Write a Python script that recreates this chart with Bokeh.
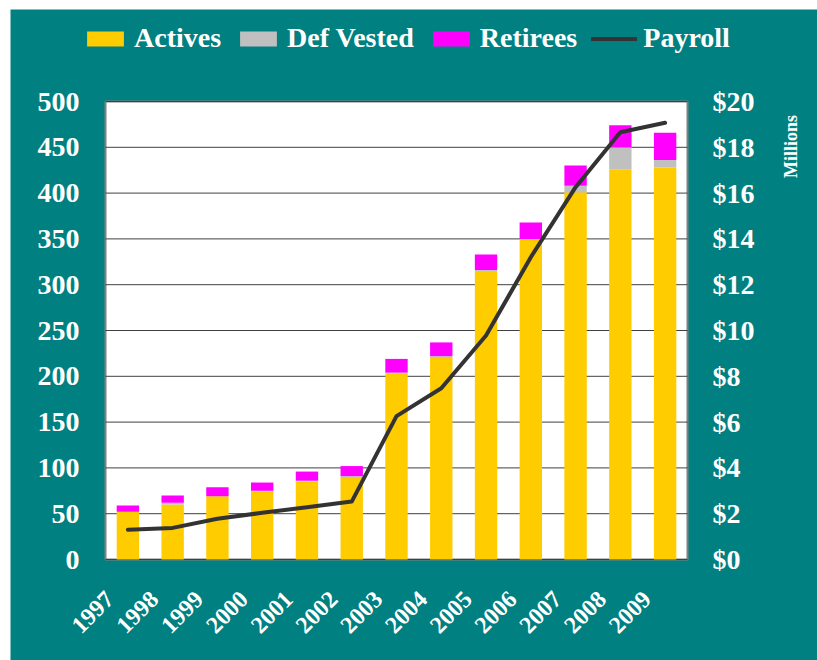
import math
from bokeh.plotting import figure
from bokeh.models import (Range1d, LinearAxis, Legend, LegendItem, Label,
                          FixedTicker, NumeralTickFormatter, ColumnDataSource)
from bokeh.embed import file_html
from bokeh.resources import INLINE

years = ["1997", "1998", "1999", "2000", "2001", "2002", "2003", "2004", "2005", "2006", "2007", "2008", "2009"]
actives = [52, 60, 69, 74, 85, 89, 203, 220, 315, 349, 401, 426, 428]
def_vested = [0, 2, 0, 1, 1, 2, 1, 2, 1, 1, 7, 24, 8]
retirees = [7, 8, 10, 9, 10, 11, 15, 15, 17, 18, 22, 24, 30]
payroll = [1.30, 1.38, 1.78, 2.04, 2.28, 2.53, 6.26, 7.48, 9.78, 13.2, 16.26, 18.66, 19.07]
left_ticks = [0, 50, 100, 150, 200, 250, 300, 350, 400, 450, 500]
right_ticks = [0, 2, 4, 6, 8, 10, 12, 14, 16, 18, 20]
units_label = "Millions"

TEAL = "#008080"
FONT = "Liberation Serif"

n = len(years)
ymax = left_ticks[-1]
pmax = right_ticks[-1]

# layout (pixels): white plot box 582x458, teal surround
BOX_W, BOX_H = 582, 458
PAD_L, PAD_R, PAD_T, PAD_B = 95, 130, 92, 101
px_x = BOX_W / n
px_y = BOX_H / ymax
frame_h = BOX_H + PAD_T + PAD_B
x0 = -PAD_L / px_x
x1 = n + PAD_R / px_x
ybot = -PAD_B / px_y
ytop = ymax + PAD_T / px_y
pscale = pmax / ymax

xpos = [i + 0.5 for i in range(n)]
src = ColumnDataSource(dict(x=xpos, Actives=actives, DefVested=def_vested, Retirees=retirees, payroll=payroll))

p = figure(x_range=Range1d(x0, x1), y_range=Range1d(ybot, ytop),
           frame_width=PAD_L + BOX_W + PAD_R, frame_height=frame_h,
           output_backend="svg", toolbar_location=None,
           x_axis_location=None, y_axis_location=None,
           min_border_left=0, min_border_right=0, min_border_top=0, min_border_bottom=0)
p.margin = (9, 0, 0, 10)
p.background_fill_color = TEAL
p.border_fill_color = TEAL
p.outline_line_color = None
p.grid.visible = False

p.extra_y_ranges = {"pay": Range1d(ybot * pscale, ytop * pscale)}
# label range shifted slightly so rotated year labels sit as in the original
shift = 0.4
p.extra_x_ranges = {"lab": Range1d(x0 + shift, x1 + shift)}

# white plot area with grey border
p.quad(left=0, right=n, bottom=0, top=ymax, fill_color="white", line_color="#808080", line_width=2)
# horizontal grid lines
p.segment(x0=[0] * len(left_ticks), x1=[n] * len(left_ticks), y0=left_ticks, y1=left_ticks,
          line_color="#404040", line_width=1)

bars = p.vbar_stack(["Actives", "DefVested", "Retirees"], x="x", width=0.5, source=src,
                    color=["#FFCC00", "#C0C0C0", "#FF00FF"], line_color=None)
line = p.line(x="x", y="payroll", source=src, y_range_name="pay",
              line_color="#333333", line_width=4, line_cap="round", line_join="round")

def style(ax, so, size):
    ax.axis_line_color = None
    ax.major_tick_line_color = None
    ax.minor_tick_line_color = None
    ax.major_tick_out = 0
    ax.major_tick_in = 0
    ax.major_label_standoff = so
    ax.major_label_text_font = FONT
    ax.major_label_text_font_style = "bold"
    ax.major_label_text_font_size = size
    ax.major_label_text_color = "white"

left = LinearAxis(ticker=FixedTicker(ticks=left_ticks), fixed_location=0)
style(left, 26, "28px")
p.add_layout(left, "left")

right = LinearAxis(y_range_name="pay", ticker=FixedTicker(ticks=right_ticks),
                   formatter=NumeralTickFormatter(format="$0"), fixed_location=n)
style(right, 25, "28px")
p.add_layout(right, "right")

xa = LinearAxis(x_range_name="lab", ticker=FixedTicker(ticks=xpos),
                major_label_overrides={t: y for t, y in zip(xpos, years)}, fixed_location=0)
style(xa, 36, "24px")
xa.major_label_orientation = math.pi / 4
p.add_layout(xa, "below")

lab = Label(x=780, y=514, x_units="screen", y_units="screen", text=units_label, angle=math.pi / 2,
            text_align="center", text_baseline="middle", text_font=FONT, text_font_style="bold",
            text_font_size="18px", text_color="white")
p.add_layout(lab)

legend = Legend(items=[
    LegendItem(label="Actives", renderers=[bars[0]]),
    LegendItem(label="Def Vested", renderers=[bars[1]]),
    LegendItem(label="Retirees", renderers=[bars[2]]),
    LegendItem(label="Payroll", renderers=[line]),
], orientation="horizontal", location=(72, 606), padding=0, margin=0,
    glyph_width=46, glyph_height=19, label_standoff=6, spacing=14,
    label_text_font=FONT, label_text_font_style="bold", label_text_font_size="28px",
    label_text_color="white", background_fill_alpha=0, border_line_color=None)
p.add_layout(legend)

open("out.html", "w").write(file_html(p, INLINE))
